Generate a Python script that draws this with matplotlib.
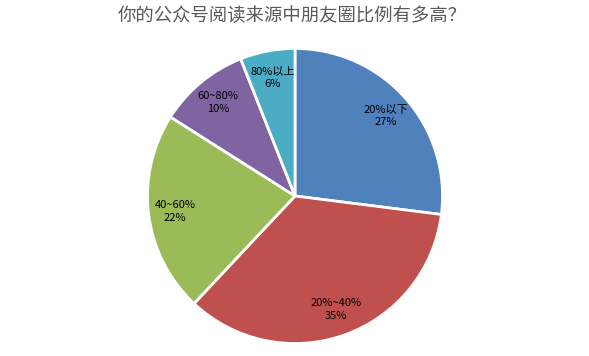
import matplotlib
matplotlib.use("Agg")
import matplotlib.pyplot as plt

plt.rcParams['font.family'] = ['Noto Sans CJK SC', 'DejaVu Sans']

title = "你的公众号阅读来源中朋友圈比例有多高？"
categories = ["20%以下", "20%~40%", "40~60%", "60~80%", "80%以上"]
values = [27, 35, 22, 10, 6]
colors = ["#4F81BD", "#C0504D", "#9BBB59", "#8064A2", "#4BACC6"]

W, H = 589, 356
fig = plt.figure(figsize=(W / 100, H / 100), dpi=100)
cx, cy, r = 295, 196, 149
ax = fig.add_axes([(cx - r) / W, (H - cy - r) / H, 2 * r / W, 2 * r / H])

labels = [f"{c}\n{v}%" for c, v in zip(categories, values)]
wedges, texts = ax.pie(values, colors=colors, startangle=90, counterclock=False,
                       labels=labels, labeldistance=0.82,
                       wedgeprops=dict(edgecolor="white", linewidth=2),
                       textprops=dict(fontsize=8, color="black", ha="center", va="center",
                                      linespacing=1.35))
for t in texts:
    t.set_ha("center")
    t.set_va("center")
ax.set_xlim(-1.01, 1.01)
ax.set_ylim(-1.01, 1.01)
ax.set_aspect("equal")
ax.axis("off")

fig.text(292 / W, 1 - 16 / H, title, ha="center", va="center", fontsize=13.2, color="#595959")

fig.savefig("out.png", dpi=100, facecolor="white")
